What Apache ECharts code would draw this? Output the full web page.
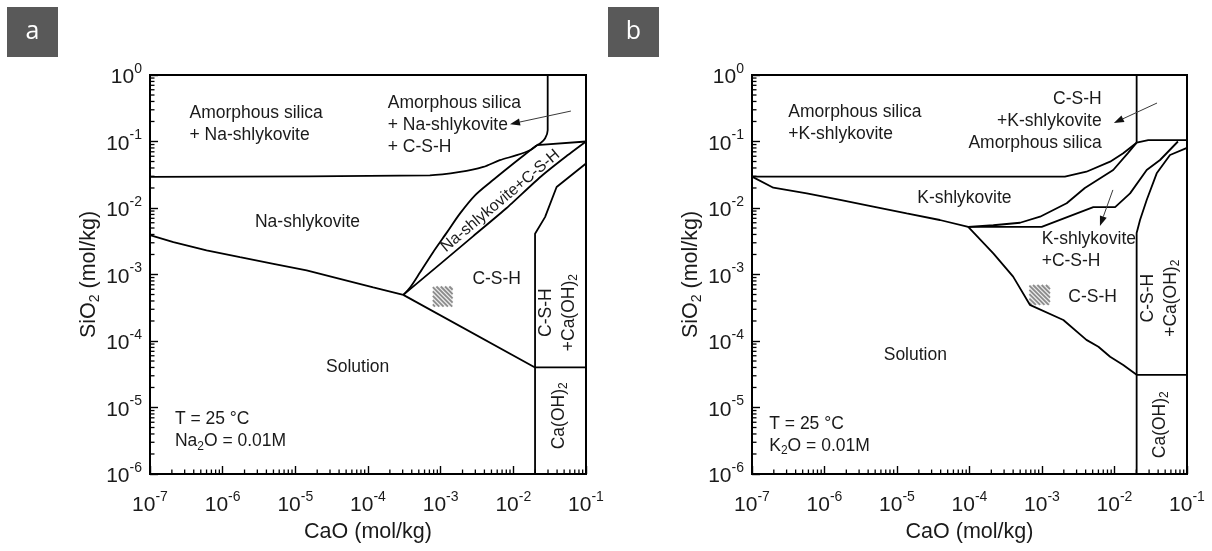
<!DOCTYPE html>
<html>
<head>
<meta charset="utf-8">
<script src="https://cdn.jsdelivr.net/npm/echarts@6/dist/echarts.min.js"></script>
<style>
  html, body { margin: 0; padding: 0; background: #fff; }
  #chart { width: 1212px; height: 551px; }
</style>
</head>
<body>
<div id="chart"></div>
<script>
// Phase diagrams of the CaO–SiO2 system with 0.01 M alkali oxide at 25 °C.
// All coordinates are concentrations in mol/kg: [CaO, SiO2].

const FONT = '"Liberation Sans", Arial, Helvetica, sans-serif';

// Axis decades (exponents of ten)
const caoDecades = [-7, -6, -5, -4, -3, -2, -1];
const sio2Decades = [-6, -5, -4, -3, -2, -1, 0];

// ---------- (a) Na2O = 0.01 M ----------
const naSolutionShlyk = [[1e-7, 3.9e-3], [2.1e-7, 3.07e-3], [6.0e-7, 2.3e-3], [1.73e-6, 1.82e-3], [5.0e-6, 1.45e-3], [1.43e-5, 1.15e-3], [4.1e-5, 8.6e-4], [1.18e-4, 6.4e-4], [3.06e-4, 4.94e-4]];
const naAmorphShlyk = [[1e-7, 0.0293], [7.1e-4, 0.031], [1.85e-3, 0.0348], [3.86e-3, 0.0414], [6.5e-3, 0.0523], [1.11e-2, 0.0622], [1.69e-2, 0.074], [2.11e-2, 0.088]];
const naBandUpper = [[3.06e-4, 4.94e-4], [3.79e-4, 6.37e-4], [5.19e-4, 1.07e-3], [7.83e-4, 2.15e-3], [1.22e-3, 4.3e-3], [1.85e-3, 8.3e-3], [2.97e-3, 0.0155], [5.0e-3, 0.0252], [9.0e-3, 0.0425], [1.4e-2, 0.0622], [2.11e-2, 0.088]];
const naBandLower = [[3.06e-4, 4.94e-4], [9.8e-4, 1.435e-3], [2.81e-3, 3.78e-3], [8.1e-3, 0.01], [0.0233, 0.029], [0.0514, 0.058], [0.1, 0.1]];
const naAmorphCap = [[0.0297, 1], [0.0297, 0.148], [0.0273, 0.111], [0.0233, 0.0934], [0.0211, 0.088]];
const naTopRight = [[0.0211, 0.088], [0.1, 0.1]];
const naCshPortlandite = [[0.1, 0.0467], [0.0394, 0.0207], [0.0273, 7.3e-3], [0.0199, 4.1e-3], [0.0199, 1e-6]];
const naPortlanditeTop = [[0.0199, 4.0e-5], [0.1, 4.0e-5]];
const naSolutionCsh = [[3.06e-4, 4.94e-4], [0.0199, 4.0e-5]];
const naHatch = [7.8e-4, 3.3e-4, 1.46e-3, 6.6e-4];
const naArrows = [[0.062, 0.287, 9.0e-3, 0.1825]];
const naLabels = [
  ['Amorphous silica\n+ Na-shlykovite', 3.5e-7, 0.181],
  ['Amorphous silica\n+ Na-shlykovite\n+ C-S-H', 1.87e-4, 0.178],
  ['Na-shlykovite', 1.47e-5, 6.1e-3],
  ['Na-shlykovite+C-S-H', 6.65e-3, 0.0128],
  ['C-S-H', 5.9e-3, 8.4e-4],
  ['C-S-H', 0.0281, 2.67e-4],
  ['+Ca(OH){sub|2}', 0.0583, 2.67e-4],
  ['Ca(OH){sub|2}', 0.0425, 7.5e-6],
  ['Solution', 7.2e-5, 4.1e-5],
  ['T = 25 °C\nNa{sub|2}O = 0.01M', 2.2e-7, 4.5e-6]
];
const naLabelKinds = ['left', 'left', 'center', 'band', 'center', 'vert', 'vert', 'vert', 'center', 'left'];

// ---------- (b) K2O = 0.01 M ----------
const kSolutionShlyk = [[1e-7, 0.0296], [1.97e-7, 0.0202], [5.7e-7, 0.0166], [1.64e-6, 0.0132], [4.7e-6, 0.0105], [1.36e-5, 8.3e-3], [3.9e-5, 6.6e-3], [9.6e-5, 5.2e-3]];
const kAmorphShlyk = [[1e-7, 0.0296], [2.07e-3, 0.0296], [4.1e-3, 0.0351], [8.7e-3, 0.0497], [1.32e-2, 0.0665], [2.02e-2, 0.096]];
const kShlykCshUpper = [[9.6e-5, 5.2e-3], [2.13e-4, 5.5e-3], [4.98e-4, 6.0e-3], [9.4e-4, 7.4e-3], [2.19e-3, 0.0118], [3.9e-3, 0.02], [9.6e-3, 0.0373], [1.53e-2, 0.067], [2.02e-2, 0.096]];
const kShlykCshLower = [[9.6e-5, 5.2e-3], [9.9e-4, 5.2e-3], [5.1e-3, 0.0103], [1.02e-2, 0.0103], [1.64e-2, 0.0166], [2.78e-2, 0.0373], [4.25e-2, 0.0527], [7.5e-2, 0.1]];
const kSolutionCsh = [[9.6e-5, 5.2e-3], [2.13e-4, 2.08e-3], [4.0e-4, 9.3e-4], [6.8e-4, 3.5e-4], [1.97e-3, 2.07e-4], [4.1e-3, 1.04e-4], [6.0e-3, 8.2e-5], [8.7e-3, 5.8e-5], [1.32e-2, 4.35e-5], [0.0202, 3.1e-5]];
const kAmorphCap = [[0.0202, 1], [0.0202, 0.096]];
const kTopRight = [[0.0202, 0.096], [0.0292, 0.105], [0.1, 0.105]];
const kCshPortlandite = [[0.1, 0.08], [0.0583, 0.0627], [0.0382, 0.0332], [0.0278, 0.0132], [0.0225, 6.6e-3], [0.0202, 4.2e-3], [0.0202, 1e-6]];
const kPortlanditeTop = [[0.0202, 3.1e-5], [0.1, 3.1e-5]];
const kHatch = [6.7e-4, 3.48e-4, 1.29e-3, 6.95e-4];
const kArrows = [[0.0386, 0.379, 9.8e-3, 0.19], [9.5e-3, 0.0187, 6.3e-3, 5.36e-3]];
const kLabels = [
  ['Amorphous silica\n+K-shlykovite', 3.17e-7, 0.19],
  ['C-S-H\n+K-shlykovite\nAmorphous silica', 6.65e-3, 0.205],
  ['K-shlykovite', 8.5e-5, 0.014],
  ['K-shlykovite\n+C-S-H', 9.9e-4, 2.3e-3],
  ['C-S-H', 4.98e-3, 4.6e-4],
  ['C-S-H', 0.029, 4.4e-4],
  ['+Ca(OH){sub|2}', 0.060, 4.4e-4],
  ['Ca(OH){sub|2}', 0.0425, 5.5e-6],
  ['Solution', 1.79e-5, 6.2e-5],
  ['T = 25 °C\nK{sub|2}O = 0.01M', 1.73e-7, 3.86e-6]
];
const kLabelKinds = ['left', 'right', 'center', 'left', 'center', 'vert', 'vert', 'vert', 'center', 'left'];

// ---------- helpers ----------
const xMin = Math.pow(10, caoDecades[0]), xMax = Math.pow(10, caoDecades[caoDecades.length - 1]);
const yMin = Math.pow(10, sio2Decades[0]), yMax = Math.pow(10, sio2Decades[sio2Decades.length - 1]);

function boundary(data, gi, smooth) {
  return {
    type: 'line', xAxisIndex: gi, yAxisIndex: gi, data: data,
    symbol: 'none', showSymbol: false, smooth: smooth || false,
    lineStyle: { color: '#000', width: 1.8 }, silent: true, z: 3
  };
}

// Log-spaced minor ticks (2..9 within every decade), drawn inward
function minorTicks(gi) {
  const xs = [], ys = [];
  for (let i = 0; i < caoDecades.length - 1; i++)
    for (let k = 2; k <= 9; k++) xs.push([k * Math.pow(10, caoDecades[i]), yMin]);
  for (let i = 0; i < sio2Decades.length - 1; i++)
    for (let k = 2; k <= 9; k++) ys.push([xMin, k * Math.pow(10, sio2Decades[i])]);
  const nX = xs.length;
  return {
    type: 'custom', xAxisIndex: gi, yAxisIndex: gi, data: xs.concat(ys), silent: true, z: 4,
    renderItem: function (params, api) {
      const p = api.coord([api.value(0), api.value(1)]);
      const onX = params.dataIndex < nX;
      return {
        type: 'line',
        shape: onX ? { x1: p[0], y1: p[1], x2: p[0], y2: p[1] - 4.5 } : { x1: p[0], y1: p[1], x2: p[0] + 4.5, y2: p[1] },
        style: { stroke: '#000', lineWidth: 1.3 }
      };
    }
  };
}

function hatch(box, gi) {
  return {
    type: 'custom', xAxisIndex: gi, yAxisIndex: gi, data: [box], silent: true, z: 2,
    encode: { x: [0, 2], y: [1, 3] },
    renderItem: function (params, api) {
      const p0 = api.coord([api.value(0), api.value(1)]);
      const p1 = api.coord([api.value(2), api.value(3)]);
      const x0 = p0[0], y0 = p1[1], w = p1[0] - p0[0], h = p0[1] - p1[1];
      const children = [{ type: 'rect', shape: { x: x0, y: y0, width: w, height: h }, style: { fill: '#efefef' } }];
      const step = 4.3;
      for (let c = step / 2; c < w + h; c += step) {
        const u1 = Math.max(0, c - h), u2 = Math.min(c, w);
        children.push({
          type: 'line',
          shape: { x1: x0 + u1, y1: y0 + h - (c - u1), x2: x0 + u2, y2: y0 + h - (c - u2) },
          style: { stroke: '#8c8c8c', lineWidth: 1.8 }
        });
      }
      return { type: 'group', children: children };
    }
  };
}

function arrows(list, gi) {
  return {
    type: 'custom', xAxisIndex: gi, yAxisIndex: gi, data: list, silent: true, z: 5,
    encode: { x: [0, 2], y: [1, 3] },
    renderItem: function (params, api) {
      const a = api.coord([api.value(0), api.value(1)]);
      const b = api.coord([api.value(2), api.value(3)]);
      const ang = Math.atan2(b[1] - a[1], b[0] - a[0]);
      const L = 10, W = 3.6;
      const base = [b[0] - L * Math.cos(ang), b[1] - L * Math.sin(ang)];
      const n = [-Math.sin(ang), Math.cos(ang)];
      return {
        type: 'group', children: [
          { type: 'line', shape: { x1: a[0], y1: a[1], x2: base[0], y2: base[1] }, style: { stroke: '#3a3a3a', lineWidth: 1 } },
          { type: 'polygon', shape: { points: [b, [base[0] + n[0] * W, base[1] + n[1] * W], [base[0] - n[0] * W, base[1] - n[1] * W]] }, style: { fill: '#111' } }
        ]
      };
    }
  };
}

function labels(list, kinds, gi) {
  return {
    type: 'custom', xAxisIndex: gi, yAxisIndex: gi, silent: true, z: 6,
    data: list.map(function (l) { return [l[1], l[2]]; }),
    renderItem: function (params, api) {
      const p = api.coord([api.value(0), api.value(1)]);
      const text = list[params.dataIndex][0];
      const kind = kinds[params.dataIndex];
      const rot = kind === 'band' ? 40 * Math.PI / 180 : (kind === 'vert' ? Math.PI / 2 : 0);
      return {
        type: 'text', x: p[0], y: p[1], rotation: rot,
        style: {
          text: text, fill: '#1a1a1a', fontFamily: FONT, fontSize: kind === 'band' ? 16 : 17.5, lineHeight: 22,
          align: kind === 'left' ? 'left' : (kind === 'right' ? 'right' : 'center'),
          verticalAlign: 'middle',
          rich: { sub: { fontFamily: FONT, fontSize: 12, lineHeight: 15, verticalAlign: 'bottom', fill: '#1a1a1a' } }
        }
      };
    }
  };
}

const tickRich = {
  b: { fontFamily: FONT, fontSize: 21, lineHeight: 26, verticalAlign: 'bottom', color: '#1a1a1a' },
  s: { fontFamily: FONT, fontSize: 14, lineHeight: 12, verticalAlign: 'top', color: '#1a1a1a' }
};
function powerLabel(v) {
  return '{b|10}{s|' + Math.round(Math.log10(v)) + '}';
}

function xAxis(gi) {
  return {
    type: 'log', logBase: 10, gridIndex: gi, min: xMin, max: xMax,
    name: 'CaO (mol/kg)', nameLocation: 'middle', nameGap: 44,
    nameTextStyle: { fontFamily: FONT, fontSize: 21.5, color: '#1a1a1a' },
    axisLine: { show: true, onZero: false, lineStyle: { color: '#000', width: 2 } },
    axisTick: { show: true, inside: true, length: 8, lineStyle: { color: '#000', width: 1.4 } },
    axisLabel: { margin: 16, formatter: powerLabel, rich: tickRich },
    splitLine: { show: false }
  };
}
function yAxis(gi) {
  return {
    type: 'log', logBase: 10, gridIndex: gi, min: yMin, max: yMax,
    name: '{t|SiO}{d|2}{t| (mol/kg)}', nameLocation: 'middle', nameGap: 48,
    nameTextStyle: {
      rich: {
        t: { fontFamily: FONT, fontSize: 21.5, color: '#1a1a1a', lineHeight: 26 },
        d: { fontFamily: FONT, fontSize: 14, color: '#1a1a1a', lineHeight: 16, verticalAlign: 'bottom' }
      }
    },
    axisLine: { show: true, onZero: false, lineStyle: { color: '#000', width: 2 } },
    axisTick: { show: true, inside: true, length: 8, lineStyle: { color: '#000', width: 1.4 } },
    axisLabel: { margin: 8, formatter: powerLabel, rich: tickRich },
    splitLine: { show: false }
  };
}

function panelTag(letter, left) {
  return {
    type: 'group', left: left, top: 7, children: [
      { type: 'rect', shape: { x: 0, y: 0, width: 51, height: 50 }, style: { fill: '#595959' } },
      { type: 'text', x: 25.5, y: 25, style: { text: letter, fill: '#fff', fontFamily: '"Open Sans", "Noto Sans", sans-serif', fontSize: 25, align: 'center', verticalAlign: 'middle' } }
    ]
  };
}

const chart = echarts.init(document.getElementById('chart'), null, { renderer: 'canvas' });
chart.setOption({
  animation: false,
  backgroundColor: '#fff',
  grid: [
    { left: 150, top: 75, width: 436, height: 399, show: true, borderColor: '#000', borderWidth: 2, backgroundColor: 'transparent' },
    { left: 752, top: 75, width: 435, height: 399, show: true, borderColor: '#000', borderWidth: 2, backgroundColor: 'transparent' }
  ],
  xAxis: [xAxis(0), xAxis(1)],
  yAxis: [yAxis(0), yAxis(1)],
  graphic: [panelTag('a', 7), panelTag('b', 608)],
  series: [
    boundary(naSolutionShlyk, 0),
    boundary(naAmorphShlyk, 0, 0.3),
    boundary(naBandUpper, 0, 0.3),
    boundary(naBandLower, 0, 0.15),
    boundary(naAmorphCap, 0, 0.3),
    boundary(naTopRight, 0),
    boundary(naCshPortlandite, 0),
    boundary(naPortlanditeTop, 0),
    boundary(naSolutionCsh, 0),
    hatch(naHatch, 0),
    arrows(naArrows, 0),
    labels(naLabels, naLabelKinds, 0),
    minorTicks(0),

    boundary(kSolutionShlyk, 1),
    boundary(kAmorphShlyk, 1),
    boundary(kShlykCshUpper, 1),
    boundary(kShlykCshLower, 1),
    boundary(kSolutionCsh, 1),
    boundary(kAmorphCap, 1),
    boundary(kTopRight, 1),
    boundary(kCshPortlandite, 1),
    boundary(kPortlanditeTop, 1),
    hatch(kHatch, 1),
    arrows(kArrows, 1),
    labels(kLabels, kLabelKinds, 1),
    minorTicks(1)
  ]
});
</script>
</body>
</html>
